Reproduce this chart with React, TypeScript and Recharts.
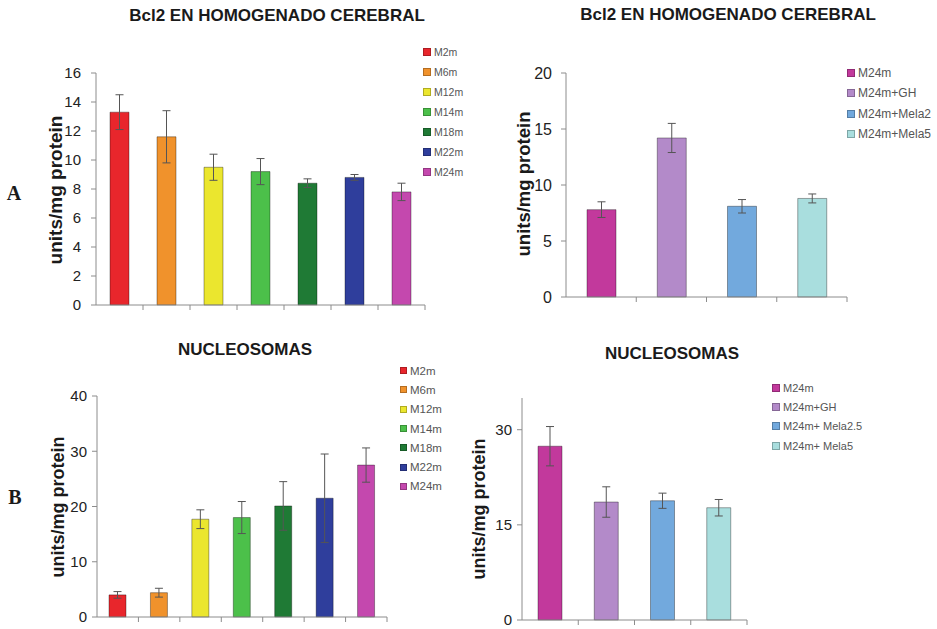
import React from 'react';
import { BarChart, Bar, XAxis, YAxis, Cell, ErrorBar, Legend } from 'recharts';

const FONT = '"Liberation Sans", Arial, sans-serif';

// age groups (panels on the left)
const agingGroups = ['M2m', 'M6m', 'M12m', 'M14m', 'M18m', 'M22m', 'M24m'];
const agingColors = ['#e8262c', '#f0922c', '#ebe62e', '#4cc04a', '#1f7a35', '#2f3e9c', '#c448ae'];

// treatment groups (panels on the right)
const treatGroupsBcl2 = ['M24m', 'M24m+GH', 'M24m+Mela2', 'M24m+Mela5'];
const treatGroupsNuc = ['M24m', 'M24m+GH', 'M24m+ Mela2.5', 'M24m+ Mela5'];
const treatColors = ['#c2399c', '#b38ac9', '#72a9dd', '#a9dede'];

// Bcl2, units/mg protein
const bcl2Aging = [13.3, 11.6, 9.5, 9.2, 8.4, 8.8, 7.8];
const bcl2AgingErr = [1.2, 1.8, 0.9, 0.9, 0.3, 0.2, 0.6];
const bcl2Treat = [7.8, 14.2, 8.1, 8.8];
const bcl2TreatErr = [0.7, 1.3, 0.6, 0.4];

// nucleosomes, units/mg protein
const nucAging = [4.0, 4.4, 17.7, 18.0, 20.1, 21.5, 27.5];
const nucAgingErr = [0.6, 0.8, 1.7, 2.9, 4.4, 8.0, 3.1];
const nucTreat = [27.4, 18.6, 18.8, 17.7];
const nucTreatErr = [3.1, 2.4, 1.2, 1.3];

const bcl2AgingTicks = [0, 2, 4, 6, 8, 10, 12, 14, 16];
const bcl2TreatTicks = [0, 5, 10, 15, 20];
const nucAgingTicks = [0, 10, 20, 30, 40];
const nucTreatTicks = [0, 15, 30];

const BoundaryTick = (props: any) => {
    const { x, y, slot } = props;
    return <line x1={x + slot / 2} x2={x + slot / 2} y1={y} y2={y + 5} stroke="#8c8c8c" />;
};

interface PanelProps {
    names: string[];
    values: number[];
    errors: number[];
    colors: string[];
    domain: [number, number];
    ticks: number[];
    left: number;
    top: number;
    width: number;
    height: number;
    margin: { top: number; right: number; bottom: number; left: number };
    yWidth: number;
    barSize: number;
    tickGap: number;
    tickFont: number;
    legend: { left: number; top: number; row: number; font: number; box: number };
}

function Panel(p: PanelProps) {
    const data = p.names.map((name, i) => ({ name, value: p.values[i], err: p.errors[i] }));
    const slot = (p.width - p.margin.left - p.margin.right - p.yWidth) / p.names.length;

    const renderLegend = () => (
        <div style={{ fontFamily: FONT, fontSize: p.legend.font, color: '#555' }}>
            {p.names.map((n, i) => (
                <div key={n} style={{ display: 'flex', alignItems: 'center', height: p.legend.row, whiteSpace: 'nowrap' }}>
                    <span
                        style={{
                            width: p.legend.box,
                            height: p.legend.box,
                            background: p.colors[i],
                            border: '1px solid rgba(0,0,0,0.25)',
                            boxSizing: 'border-box',
                            marginRight: 3,
                            display: 'inline-block',
                        }}
                    />
                    {n}
                </div>
            ))}
        </div>
    );

    return (
        <div style={{ position: 'absolute', left: p.left, top: p.top }}>
            <BarChart width={p.width} height={p.height} data={data} margin={p.margin} barSize={p.barSize}>
                <XAxis
                    dataKey="name"
                    height={5}
                    tickSize={0}
                    tickMargin={0}
                    interval={0}
                    tickLine={false}
                    axisLine={{ stroke: '#8c8c8c' }}
                    tick={<BoundaryTick slot={slot} />}
                />
                <YAxis
                    width={p.yWidth}
                    domain={p.domain}
                    ticks={p.ticks}
                    interval={0}
                    tickSize={5}
                    tickMargin={p.tickGap}
                    axisLine={{ stroke: '#8c8c8c' }}
                    tickLine={{ stroke: '#8c8c8c' }}
                    tick={{ fill: '#222', fontSize: p.tickFont, fontFamily: FONT }}
                />
                <Legend
                    layout="vertical"
                    align="center"
                    verticalAlign="middle"
                    content={renderLegend}
                    wrapperStyle={{ left: p.legend.left, top: p.legend.top, width: 'auto' }}
                />
                <Bar dataKey="value" isAnimationActive={false} stroke="rgba(0,0,0,0.35)" strokeWidth={1}>
                    {data.map((d, i) => (
                        <Cell key={d.name} fill={p.colors[i]} />
                    ))}
                    <ErrorBar dataKey="err" width={4} stroke="#555" strokeWidth={1} direction="y" />
                </Bar>
            </BarChart>
        </div>
    );
}

const Title = ({ text, x, y }: { text: string; x: number; y: number }) => (
    <div
        style={{
            position: 'absolute', left: x, top: y, transform: 'translate(-50%, -50%)',
            fontFamily: FONT, fontWeight: 700, fontSize: 17, color: '#1a1a1a', whiteSpace: 'nowrap',
        }}
    >
        {text}
    </div>
);

const YLabel = ({ x, y, size }: { x: number; y: number; size: number }) => (
    <div
        style={{
            position: 'absolute', left: x, top: y, transform: 'translate(-50%, -50%) rotate(-90deg)',
            fontFamily: FONT, fontWeight: 700, fontSize: size, color: '#1a1a1a', whiteSpace: 'nowrap',
        }}
    >
        units/mg protein
    </div>
);

const Letter = ({ text, x, y }: { text: string; x: number; y: number }) => (
    <div
        style={{
            position: 'absolute', left: x, top: y, transform: 'translate(-50%, -50%)',
            fontFamily: '"Liberation Serif", "Times New Roman", serif', fontWeight: 700, fontSize: 20, color: '#1a1a1a',
        }}
    >
        {text}
    </div>
);

export default function App() {
    return (
        <div style={{ position: 'absolute', left: 0, top: 0, width: 937, height: 629, background: '#fff', overflow: 'hidden' }}>
            <Panel
                names={agingGroups} values={bcl2Aging} errors={bcl2AgingErr} colors={agingColors}
                domain={[0, 16]} ticks={bcl2AgingTicks}
                left={0} top={0} width={470} height={320}
                margin={{ top: 73, right: 45, bottom: 10, left: 0 }}
                yWidth={96} barSize={19} tickGap={10} tickFont={15}
                legend={{ left: 423, top: 42, row: 20, font: 10.5, box: 8 }}
            />
            <Panel
                names={treatGroupsBcl2} values={bcl2Treat} errors={bcl2TreatErr} colors={treatColors}
                domain={[0, 20]} ticks={bcl2TreatTicks}
                left={470} top={0} width={467} height={320}
                margin={{ top: 73, right: 90, bottom: 18, left: 0 }}
                yWidth={96} barSize={29} tickGap={9} tickFont={16}
                legend={{ left: 377, top: 63, row: 20.3, font: 12, box: 8 }}
            />
            <Panel
                names={agingGroups} values={nucAging} errors={nucAgingErr} colors={agingColors}
                domain={[0, 40]} ticks={nucAgingTicks}
                left={0} top={320} width={470} height={309}
                margin={{ top: 76, right: 83, bottom: 7, left: 0 }}
                yWidth={97} barSize={17} tickGap={5} tickFont={15}
                legend={{ left: 400, top: 41, row: 19.3, font: 11.5, box: 7 }}
            />
            <Panel
                names={treatGroupsNuc} values={nucTreat} errors={nucTreatErr} colors={treatColors}
                domain={[0, 35]} ticks={nucTreatTicks}
                left={470} top={320} width={467} height={309}
                margin={{ top: 78, right: 190, bottom: 4, left: 0 }}
                yWidth={52} barSize={24} tickGap={5} tickFont={15}
                legend={{ left: 302, top: 58, row: 19.3, font: 11, box: 8 }}
            />

            <Title text="Bcl2 EN HOMOGENADO CEREBRAL" x={277} y={16} />
            <Title text="Bcl2 EN HOMOGENADO CEREBRAL" x={728} y={15} />
            <Title text="NUCLEOSOMAS" x={245} y={350} />
            <Title text="NUCLEOSOMAS" x={672} y={354} />

            <YLabel x={56} y={190} size={19} />
            <YLabel x={524} y={184} size={18.5} />
            <YLabel x={58} y={507} size={18} />
            <YLabel x={479} y={509} size={18} />

            <Letter text="A" x={14} y={193} />
            <Letter text="B" x={15} y={497} />
        </div>
    );
}
